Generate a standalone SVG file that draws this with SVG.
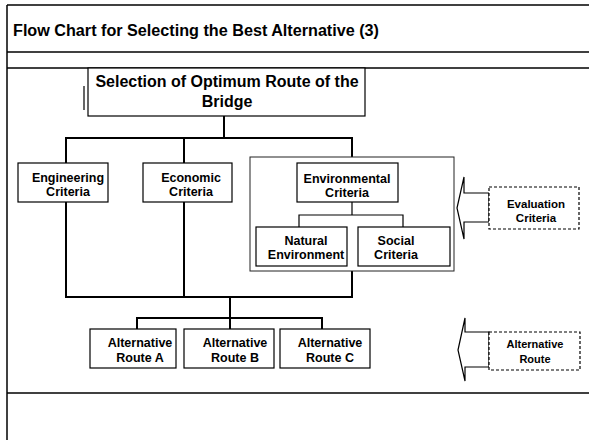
<svg xmlns="http://www.w3.org/2000/svg" width="589" height="440" viewBox="0 0 589 440">
<style>
.frame{stroke:#000;stroke-width:1.5;fill:none}
.box{fill:#fff;stroke:#000;stroke-width:1.2}
.cont{fill:none;stroke:#222;stroke-width:1}
.dash{fill:#fff;stroke:#000;stroke-width:1.2;stroke-dasharray:3,2}
.arrow{fill:#fff;stroke:#000;stroke-width:1.2;stroke-linejoin:miter}
.conn{stroke:#000;stroke-width:2;fill:none}
.sub{stroke:#000;stroke-width:1.2;fill:none}
text{font-family:"Liberation Sans",Arial,sans-serif;font-weight:bold;fill:#000;text-anchor:middle}
.t{font-size:12.5px}
.s{font-size:11px}
</style>
<rect x="0" y="0" width="589" height="440" fill="#fff"/>
<g id="frame">
<line class="frame" x1="7" y1="5" x2="589" y2="5"/>
<line class="frame" x1="7" y1="5" x2="7" y2="440"/>
<line class="frame" x1="7" y1="52" x2="589" y2="52"/>
<line class="frame" x1="7" y1="68" x2="589" y2="68"/>
<line class="frame" x1="7" y1="393" x2="589" y2="393"/>
<text x="13" y="36" style="font-size:16px;text-anchor:start" textLength="366" lengthAdjust="spacingAndGlyphs">Flow Chart for Selecting the Best Alternative (3)</text>
</g>
<g id="connectors">
<polyline class="conn" points="224,116 224,138"/>
<polyline class="conn" points="66,163 66,138 352,138 352,157"/>
<line class="conn" x1="184" y1="138" x2="184" y2="163"/>
<line class="conn" x1="66" y1="202" x2="66" y2="297"/>
<line class="conn" x1="184" y1="202" x2="184" y2="297"/>
<line class="conn" x1="352" y1="271" x2="352" y2="297"/>
<line class="conn" x1="65" y1="297" x2="353" y2="297"/>
<line class="conn" x1="230" y1="297" x2="230" y2="329"/>
<polyline class="conn" points="137,329 137,318 322,318 322,329"/>
<line class="sub" x1="352" y1="202" x2="352" y2="215"/>
<polyline class="sub" points="299,227 299,215 403,215 403,227"/>
</g>
<g id="n-root">
<rect class="box" x="88" y="68" width="277" height="48"/>
<line class="sub" x1="84" y1="86" x2="84" y2="110"/>
<text x="227" y="87" style="font-size:16px">Selection of Optimum Route of the</text>
<text x="227" y="107" style="font-size:16px">Bridge</text>
</g>
<g id="n-eng">
<rect class="box" x="18" y="163" width="90" height="39"/>
<text class="t" x="68" y="182">Engineering</text>
<text class="t" x="68" y="196">Criteria</text>
</g>
<g id="n-eco">
<rect class="box" x="143" y="163" width="89" height="39"/>
<text class="t" x="191" y="182">Economic</text>
<text class="t" x="191" y="196">Criteria</text>
</g>
<g id="n-envgroup">
<rect class="cont" x="250" y="157" width="204" height="114"/>
</g>
<g id="n-env">
<rect class="box" x="297" y="163" width="101" height="39"/>
<text class="t" x="347" y="183">Environmental</text>
<text class="t" x="347" y="197">Criteria</text>
</g>
<g id="n-nat">
<rect class="box" x="256" y="227" width="91" height="39"/>
<text class="t" x="306" y="245">Natural</text>
<text class="t" x="306" y="259">Environment</text>
</g>
<g id="n-soc">
<rect class="box" x="358" y="227" width="92" height="39"/>
<text class="t" x="396" y="245">Social</text>
<text class="t" x="396" y="259">Criteria</text>
</g>
<g id="n-altA">
<rect class="box" x="90" y="329" width="86" height="39"/>
<text class="t" x="140" y="347">Alternative</text>
<text class="t" x="140" y="362">Route A</text>
</g>
<g id="n-altB">
<rect class="box" x="184" y="329" width="90" height="39"/>
<text class="t" x="235" y="347">Alternative</text>
<text class="t" x="235" y="362">Route B</text>
</g>
<g id="n-altC">
<rect class="box" x="280" y="329" width="90" height="39"/>
<text class="t" x="330" y="347">Alternative</text>
<text class="t" x="330" y="362">Route C</text>
</g>
<g id="n-evalarrow">
<polygon class="arrow" points="457,208 464,177 464,193 489,193 489,222 464,222 464,239"/>
</g>
<g id="n-eval">
<rect class="dash" x="489" y="187" width="90" height="42"/>
<text x="536" y="208" style="font-size:11.5px">Evaluation</text>
<text x="536" y="222" style="font-size:11.5px">Criteria</text>
</g>
<g id="n-altarrow">
<polygon class="arrow" points="458,350 465,318 465,332 489,332 489,367 465,367 465,381"/>
</g>
<g id="n-altroute">
<rect class="dash" x="489" y="332" width="91" height="38"/>
<text class="s" x="535" y="348">Alternative</text>
<text class="s" x="535" y="363">Route</text>
</g>
</svg>
